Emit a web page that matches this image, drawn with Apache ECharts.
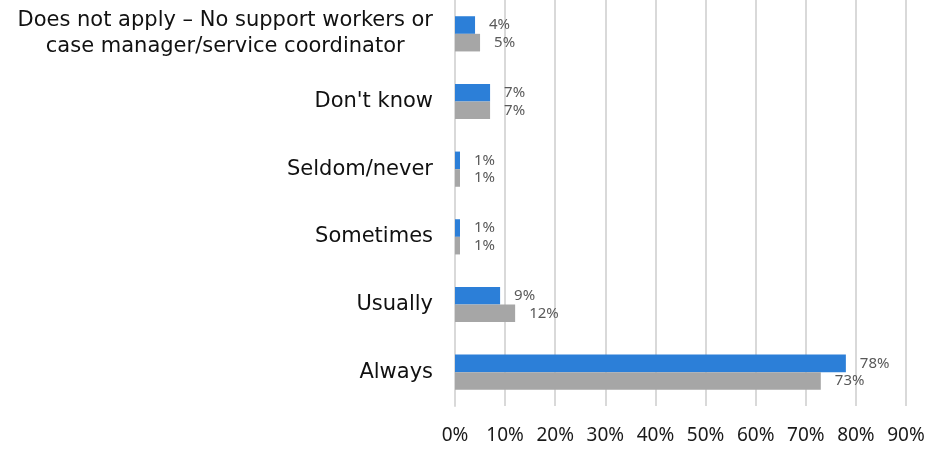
<!DOCTYPE html>
<html>
<head>
<meta charset="utf-8">
<script src="https://cdn.jsdelivr.net/npm/echarts@6/dist/echarts.min.js"></script>
<style>
  html, body { margin: 0; padding: 0; background: #ffffff; }
  #chart { width: 928px; height: 451px; }
</style>
</head>
<body>
<div id="chart"></div>
<script>
// Response categories, listed top to bottom
const categories = [
  'Does not apply \u2013 No support workers or\ncase manager/service coordinator',
  "Don't know",
  'Seldom/never',
  'Sometimes',
  'Usually',
  'Always'
];
// Percentages for the two groups (blue, gray)
const blueValues = [4, 7, 1, 1, 9, 78];
const grayValues = [5, 7, 1, 1, 12, 73];
// Value axis ticks, in percent
const tickValues = [0, 10, 20, 30, 40, 50, 60, 70, 80, 90];

const chart = echarts.init(document.getElementById('chart'), null, { renderer: 'canvas' });

const valueLabel = {
  show: true,
  position: 'right',
  distance: 14,
  formatter: '{c}%',
  fontFamily: 'Noto Sans',
  fontSize: 15,
  color: '#595959'
};

chart.setOption({
  animation: false,
  backgroundColor: '#ffffff',
  grid: { left: 455, right: 22, top: 0, bottom: 45, containLabel: false },
  xAxis: {
    type: 'value',
    min: tickValues[0],
    max: tickValues[tickValues.length - 1],
    interval: 10,
    axisLine: { show: false },
    axisTick: { show: false },
    splitLine: { show: true, lineStyle: { color: '#d9d9d9', width: 2 } },
    axisLabel: {
      formatter: '{value}%',
      margin: 20,
      fontFamily: 'Noto Sans',
      fontSize: 19,
      color: '#1a1a1a'
    }
  },
  yAxis: {
    type: 'category',
    inverse: true,
    data: categories,
    axisLine: { show: true, lineStyle: { color: '#d9d9d9', width: 2 } },
    axisTick: { show: false },
    axisLabel: {
      margin: 22,
      fontFamily: 'DejaVu Sans',
      fontSize: 21,
      color: '#111111',
      lineHeight: 26,
      formatter: function (v) {
        return v.split('\n').map(function (s) { return '{c|' + s + '}'; }).join('\n');
      },
      rich: {
        c: { align: 'center', fontFamily: 'DejaVu Sans', fontSize: 21, color: '#111111', lineHeight: 26 }
      }
    }
  },
  series: [
    {
      name: 'Blue',
      type: 'bar',
      data: blueValues,
      barWidth: 17.6,
      barGap: '0%',
      itemStyle: { color: '#2c7fd8' },
      label: valueLabel
    },
    {
      name: 'Gray',
      type: 'bar',
      data: grayValues,
      barWidth: 17.6,
      barGap: '0%',
      itemStyle: { color: '#a6a6a6' },
      label: valueLabel
    }
  ]
});
</script>
</body>
</html>
